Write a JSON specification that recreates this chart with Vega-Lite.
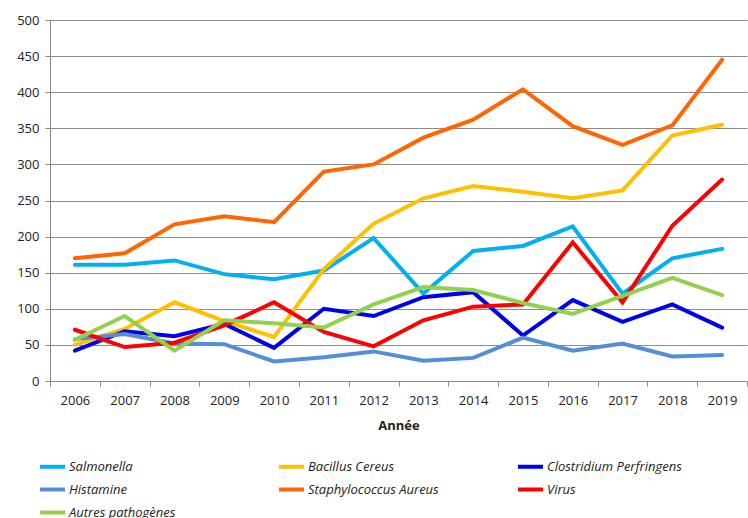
{
  "$schema": "https://vega.github.io/schema/vega-lite/v6.json",
  "width": 697,
  "height": 361,
  "autosize": "none",
  "padding": {"left": 50, "top": 20, "right": 1, "bottom": 137},
  "background": "white",
  "config": {
    "font": "Open Sans",
    "view": {"stroke": null}
  },
  "data": {
    "values": [
      {"annee": "2006", "serie": "Salmonella", "valeur": 161},
      {"annee": "2007", "serie": "Salmonella", "valeur": 161},
      {"annee": "2008", "serie": "Salmonella", "valeur": 167},
      {"annee": "2009", "serie": "Salmonella", "valeur": 148},
      {"annee": "2010", "serie": "Salmonella", "valeur": 141},
      {"annee": "2011", "serie": "Salmonella", "valeur": 153},
      {"annee": "2012", "serie": "Salmonella", "valeur": 198},
      {"annee": "2013", "serie": "Salmonella", "valeur": 121},
      {"annee": "2014", "serie": "Salmonella", "valeur": 180},
      {"annee": "2015", "serie": "Salmonella", "valeur": 187},
      {"annee": "2016", "serie": "Salmonella", "valeur": 214},
      {"annee": "2017", "serie": "Salmonella", "valeur": 121},
      {"annee": "2018", "serie": "Salmonella", "valeur": 170},
      {"annee": "2019", "serie": "Salmonella", "valeur": 183},
      {"annee": "2006", "serie": "Bacillus Cereus", "valeur": 50},
      {"annee": "2007", "serie": "Bacillus Cereus", "valeur": 72},
      {"annee": "2008", "serie": "Bacillus Cereus", "valeur": 109},
      {"annee": "2009", "serie": "Bacillus Cereus", "valeur": 83},
      {"annee": "2010", "serie": "Bacillus Cereus", "valeur": 61},
      {"annee": "2011", "serie": "Bacillus Cereus", "valeur": 155},
      {"annee": "2012", "serie": "Bacillus Cereus", "valeur": 218},
      {"annee": "2013", "serie": "Bacillus Cereus", "valeur": 253},
      {"annee": "2014", "serie": "Bacillus Cereus", "valeur": 270},
      {"annee": "2015", "serie": "Bacillus Cereus", "valeur": 262},
      {"annee": "2016", "serie": "Bacillus Cereus", "valeur": 253},
      {"annee": "2017", "serie": "Bacillus Cereus", "valeur": 264},
      {"annee": "2018", "serie": "Bacillus Cereus", "valeur": 340},
      {"annee": "2019", "serie": "Bacillus Cereus", "valeur": 355},
      {"annee": "2006", "serie": "Clostridium Perfringens", "valeur": 42},
      {"annee": "2007", "serie": "Clostridium Perfringens", "valeur": 69},
      {"annee": "2008", "serie": "Clostridium Perfringens", "valeur": 62},
      {"annee": "2009", "serie": "Clostridium Perfringens", "valeur": 79},
      {"annee": "2010", "serie": "Clostridium Perfringens", "valeur": 46},
      {"annee": "2011", "serie": "Clostridium Perfringens", "valeur": 100},
      {"annee": "2012", "serie": "Clostridium Perfringens", "valeur": 90},
      {"annee": "2013", "serie": "Clostridium Perfringens", "valeur": 116},
      {"annee": "2014", "serie": "Clostridium Perfringens", "valeur": 123},
      {"annee": "2015", "serie": "Clostridium Perfringens", "valeur": 63},
      {"annee": "2016", "serie": "Clostridium Perfringens", "valeur": 112},
      {"annee": "2017", "serie": "Clostridium Perfringens", "valeur": 82},
      {"annee": "2018", "serie": "Clostridium Perfringens", "valeur": 106},
      {"annee": "2019", "serie": "Clostridium Perfringens", "valeur": 74},
      {"annee": "2006", "serie": "Histamine", "valeur": 58},
      {"annee": "2007", "serie": "Histamine", "valeur": 65},
      {"annee": "2008", "serie": "Histamine", "valeur": 52},
      {"annee": "2009", "serie": "Histamine", "valeur": 51},
      {"annee": "2010", "serie": "Histamine", "valeur": 27},
      {"annee": "2011", "serie": "Histamine", "valeur": 33},
      {"annee": "2012", "serie": "Histamine", "valeur": 41},
      {"annee": "2013", "serie": "Histamine", "valeur": 28},
      {"annee": "2014", "serie": "Histamine", "valeur": 32},
      {"annee": "2015", "serie": "Histamine", "valeur": 60},
      {"annee": "2016", "serie": "Histamine", "valeur": 42},
      {"annee": "2017", "serie": "Histamine", "valeur": 52},
      {"annee": "2018", "serie": "Histamine", "valeur": 34},
      {"annee": "2019", "serie": "Histamine", "valeur": 36},
      {"annee": "2006", "serie": "Staphylococcus Aureus", "valeur": 170},
      {"annee": "2007", "serie": "Staphylococcus Aureus", "valeur": 177},
      {"annee": "2008", "serie": "Staphylococcus Aureus", "valeur": 217},
      {"annee": "2009", "serie": "Staphylococcus Aureus", "valeur": 228},
      {"annee": "2010", "serie": "Staphylococcus Aureus", "valeur": 220},
      {"annee": "2011", "serie": "Staphylococcus Aureus", "valeur": 290},
      {"annee": "2012", "serie": "Staphylococcus Aureus", "valeur": 300},
      {"annee": "2013", "serie": "Staphylococcus Aureus", "valeur": 337},
      {"annee": "2014", "serie": "Staphylococcus Aureus", "valeur": 362},
      {"annee": "2015", "serie": "Staphylococcus Aureus", "valeur": 404},
      {"annee": "2016", "serie": "Staphylococcus Aureus", "valeur": 353},
      {"annee": "2017", "serie": "Staphylococcus Aureus", "valeur": 327},
      {"annee": "2018", "serie": "Staphylococcus Aureus", "valeur": 354},
      {"annee": "2019", "serie": "Staphylococcus Aureus", "valeur": 445},
      {"annee": "2006", "serie": "Virus", "valeur": 71},
      {"annee": "2007", "serie": "Virus", "valeur": 47},
      {"annee": "2008", "serie": "Virus", "valeur": 53},
      {"annee": "2009", "serie": "Virus", "valeur": 77},
      {"annee": "2010", "serie": "Virus", "valeur": 109},
      {"annee": "2011", "serie": "Virus", "valeur": 68},
      {"annee": "2012", "serie": "Virus", "valeur": 48},
      {"annee": "2013", "serie": "Virus", "valeur": 84},
      {"annee": "2014", "serie": "Virus", "valeur": 103},
      {"annee": "2015", "serie": "Virus", "valeur": 106},
      {"annee": "2016", "serie": "Virus", "valeur": 192},
      {"annee": "2017", "serie": "Virus", "valeur": 109},
      {"annee": "2018", "serie": "Virus", "valeur": 215},
      {"annee": "2019", "serie": "Virus", "valeur": 279},
      {"annee": "2006", "serie": "Autres pathogènes", "valeur": 57},
      {"annee": "2007", "serie": "Autres pathogènes", "valeur": 90},
      {"annee": "2008", "serie": "Autres pathogènes", "valeur": 42},
      {"annee": "2009", "serie": "Autres pathogènes", "valeur": 84},
      {"annee": "2010", "serie": "Autres pathogènes", "valeur": 80},
      {"annee": "2011", "serie": "Autres pathogènes", "valeur": 74},
      {"annee": "2012", "serie": "Autres pathogènes", "valeur": 106},
      {"annee": "2013", "serie": "Autres pathogènes", "valeur": 130},
      {"annee": "2014", "serie": "Autres pathogènes", "valeur": 126},
      {"annee": "2015", "serie": "Autres pathogènes", "valeur": 108},
      {"annee": "2016", "serie": "Autres pathogènes", "valeur": 93},
      {"annee": "2017", "serie": "Autres pathogènes", "valeur": 118},
      {"annee": "2018", "serie": "Autres pathogènes", "valeur": 143},
      {"annee": "2019", "serie": "Autres pathogènes", "valeur": 119}
    ]
  },
  "mark": {"type": "line", "strokeWidth": 4, "strokeCap": "round", "strokeJoin": "miter"},
  "encoding": {
    "x": {
      "field": "annee",
      "type": "ordinal",
      "title": "Année",
      "scale": {"type": "band", "paddingInner": 0, "paddingOuter": 0},
      "axis": {
        "labelAngle": 0,
        "labelFontSize": 13,
        "labelColor": "#222",
        "labelPadding": 8,
        "tickBand": "extent",
        "tickColor": "#888",
        "tickSize": 5,
        "domainColor": "#888",
        "titleFontSize": 13,
        "titleFontWeight": "bold",
        "titleColor": "#222",
        "titlePadding": 12,
        "grid": false
      }
    },
    "y": {
      "field": "valeur",
      "type": "quantitative",
      "title": null,
      "scale": {"domain": [0, 500], "nice": false},
      "axis": {
        "values": [0, 50, 100, 150, 200, 250, 300, 350, 400, 450, 500],
        "labelFontSize": 13,
        "labelColor": "#222",
        "labelPadding": 6,
        "tickColor": "#888",
        "tickSize": 5,
        "domainColor": "#888",
        "grid": true,
        "gridColor": "#8c8c8c",
        "gridWidth": 1.2
      }
    },
    "color": {
      "field": "serie",
      "type": "nominal",
      "title": null,
      "sort": ["Salmonella", "Bacillus Cereus", "Clostridium Perfringens", "Histamine", "Staphylococcus Aureus", "Virus", "Autres pathogènes"],
      "scale": {
        "domain": ["Salmonella", "Bacillus Cereus", "Clostridium Perfringens", "Histamine", "Staphylococcus Aureus", "Virus", "Autres pathogènes"],
        "range": ["#00B0F0", "#FFC000", "#0000F0", "#558ED5", "#FF6600", "#FF0000", "#92D050"]
      },
      "legend": {
        "orient": "none",
        "legendX": -12,
        "legendY": 432,
        "direction": "horizontal",
        "columns": 3,
        "gridAlign": "all",
        "columnPadding": 67,
        "rowPadding": 0,
        "symbolType": "stroke",
        "symbolStrokeWidth": 4,
        "symbolSize": 625,
        "labelFontSize": 13,
        "labelColor": "#222",
        "labelOffset": 2,
        "labelFontStyle": "italic"
      }
    }
  }
}
